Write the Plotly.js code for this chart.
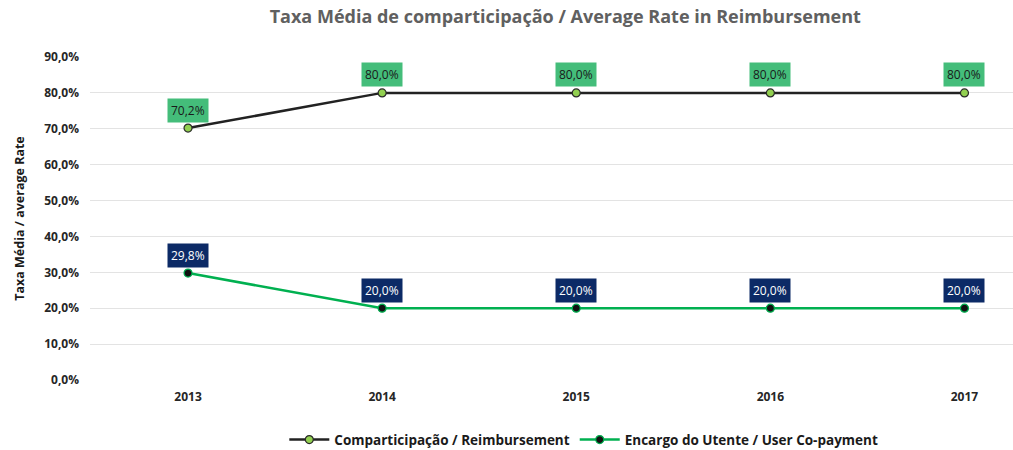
<!DOCTYPE html>
<html><head><meta charset="utf-8">
<script src="https://cdn.plot.ly/plotly-3.0.1.min.js"></script>
<style>html,body{margin:0;padding:0;background:#fff}#c{width:1013px;height:450px}</style>
</head><body><div id="c"></div>
<script>
const years = ['2013','2014','2015','2016','2017'];
const reimbursement = [70.2, 80.0, 80.0, 80.0, 80.0];
const copayment = [29.8, 20.0, 20.0, 20.0, 20.0];
const seriesNames = ['Comparticipação / Reimbursement', 'Encargo do Utente / User Co-payment'];
const F = 'Open Sans, sans-serif';
const fmt = v => v.toFixed(1).replace('.', ',') + '%';

const traces = [
  {x: years, y: reimbursement, name: seriesNames[0], type:'scatter', mode:'lines+markers',
   line:{color:'#222222', width:2.5}, marker:{size:8, color:'#92d050', line:{color:'#2a2a2a', width:1.2}}, cliponaxis:false},
  {x: years, y: copayment, name: seriesNames[1], type:'scatter', mode:'lines+markers',
   line:{color:'#00b050', width:2.5}, marker:{size:8, color:'#111111', line:{color:'#00b050', width:1.2}}, cliponaxis:false}
];
const ann = [];
years.forEach((yr,i)=>{
  ann.push({x: i, y: reimbursement[i], xref:'x', yref:'y', text: fmt(reimbursement[i]), showarrow:false, yshift:18,
    bgcolor:'#44bd7a', font:{family:F, size:12, color:'#1a1a1a'}, borderpad:3});
  ann.push({x: i, y: copayment[i], xref:'x', yref:'y', text: fmt(copayment[i]), showarrow:false, yshift:18,
    bgcolor:'#0c2a66', font:{family:F, size:12, color:'#ffffff'}, borderpad:3});
});
const layout = {
  width:1013, height:450, paper_bgcolor:'#fff', plot_bgcolor:'#fff',
  margin:{l:90, r:0, t:57, b:70, autoexpand:false},
  separators: ',.',
  title:{text:'<b>Taxa Média de comparticipação / Average Rate in Reimbursement</b>', x:0.558, xanchor:'center', y:0.962, yanchor:'middle',
    font:{family:F, size:18, color:'#606060'}},
  xaxis:{type:'category', range:[-0.505, 4.25], showgrid:false, zeroline:false, showline:false, ticks:'',
    ticklabelstandoff:8, automargin:false,
    tickfont:{family:F, size:12, color:'#262626', weight:'bold'}},
  yaxis:{range:[0,90], dtick:10, tickformat:'.1f', ticksuffix:'%', showgrid:true, gridcolor:'#e3e3e3', gridwidth:1,
    zeroline:false, showline:false, ticks:'', ticklen:0, ticklabelstandoff:10, automargin:false,
    tickfont:{family:F, size:12, color:'#262626', weight:'bold'},
    title:{text:'<b>Taxa Média / average Rate</b>', font:{family:F, size:12.5, color:'#1a1a1a'}, standoff:16}},
  showlegend:true,
  legend:{orientation:'h', x:0.535, xanchor:'center', y:-0.185, yanchor:'middle',
    font:{family:F, size:13.5, color:'#1a1a1a', weight:'bold'}, itemwidth:40},
  annotations: ann
};
Plotly.newPlot('c', traces, layout, {displayModeBar:false, staticPlot:true});
</script></body></html>
